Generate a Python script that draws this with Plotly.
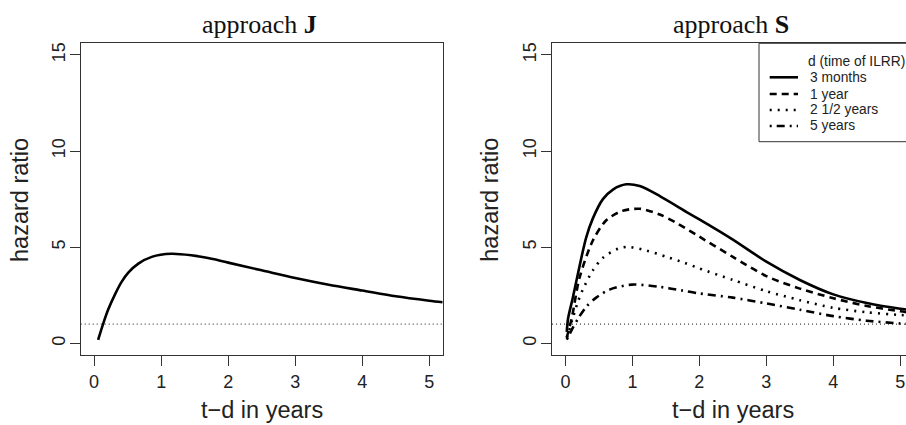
import plotly.graph_objects as go

# ---------------- data ----------------
J_t = [0.06, 0.13, 0.21, 0.31, 0.41, 0.51, 0.66, 0.86, 1.15, 1.45, 1.77, 2.0, 2.5, 3.0, 3.5, 4.0, 4.5, 5.0, 5.2]
J_hr = [0.19, 0.97, 1.76, 2.54, 3.2, 3.68, 4.15, 4.5, 4.66, 4.58, 4.39, 4.2, 3.8, 3.4, 3.05, 2.75, 2.45, 2.22, 2.14]

S_3m_t = [0.02, 0.04, 0.11, 0.21, 0.31, 0.41, 0.56, 0.71, 0.91, 1.11, 1.41, 1.83, 2.0, 2.5, 3.0, 3.5, 4.0, 4.5, 5.0, 5.2]
S_3m_hr = [0.6, 1.3, 2.36, 4.0, 5.5, 6.5, 7.5, 8.0, 8.27, 8.18, 7.66, 6.79, 6.45, 5.4, 4.25, 3.3, 2.55, 2.1, 1.8, 1.72]

S_1y_t = [0.02, 0.05, 0.1, 0.21, 0.41, 0.61, 0.84, 1.11, 1.41, 1.68, 2.0, 2.5, 3.0, 3.5, 4.0, 4.5, 5.0, 5.2]
S_1y_hr = [0.3, 0.7, 1.4, 3.4, 5.35, 6.4, 6.88, 7.0, 6.7, 6.22, 5.55, 4.5, 3.5, 2.85, 2.35, 1.95, 1.67, 1.58]

S_25y_t = [0.02, 0.05, 0.1, 0.18, 0.26, 0.41, 0.56, 0.79, 0.94, 1.21, 1.51, 1.78, 2.0, 2.5, 3.0, 3.5, 4.0, 4.5, 5.0, 5.2]
S_25y_hr = [0.3, 0.6, 1.2, 2.1, 2.8, 3.8, 4.45, 4.93, 5.02, 4.83, 4.5, 4.19, 3.9, 3.3, 2.72, 2.25, 1.85, 1.62, 1.48, 1.44]

S_5y_t = [0.02, 0.05, 0.1, 0.2, 0.31, 0.46, 0.66, 0.99, 1.41, 1.73, 2.0, 2.5, 3.0, 3.5, 4.0, 4.5, 5.0, 5.2]
S_5y_hr = [0.2, 0.4, 0.75, 1.35, 1.9, 2.38, 2.8, 3.06, 2.94, 2.76, 2.6, 2.38, 2.08, 1.75, 1.42, 1.18, 1.04, 1.0]

LEGEND_TITLE = "d (time of ILRR)"
LEGEND_LABELS = ["3 months", "1 year", "2 1/2 years", "5 years"]
REF_HR = 1
Y_TICKS = [0, 5, 10, 15]
X_TICKS = [0, 1, 2, 3, 4, 5]

# ---------------- figure ----------------
W, H = 906, 425
fig = go.Figure()

DASHES = ["solid", "7px,5px", "2px,6px", "2px,5px,8px,5px"]
LW = 2.6

fig.add_trace(go.Scatter(x=J_t, y=J_hr, mode="lines", xaxis="x", yaxis="y",
                         line=dict(color="black", width=LW, shape="spline", smoothing=0.8),
                         showlegend=False, hoverinfo="skip"))

series = [(S_3m_t, S_3m_hr), (S_1y_t, S_1y_hr), (S_25y_t, S_25y_hr), (S_5y_t, S_5y_hr)]
for (t, hr), dash, name in zip(series, DASHES, LEGEND_LABELS):
    fig.add_trace(go.Scatter(x=t, y=hr, mode="lines", xaxis="x2", yaxis="y2", name=name,
                             line=dict(color="black", width=LW, dash=dash, shape="spline", smoothing=0.8),
                             showlegend=False, hoverinfo="skip"))

# reference line at HR = 1
for xr, yr in [("x domain", "y"), ("x2 domain", "y2")]:
    fig.add_shape(type="line", xref=xr, yref=yr, x0=0, x1=1, y0=REF_HR, y1=REF_HR,
                  line=dict(color="#444", width=1.3, dash="1px,3px"), layer="below")

axis_common = dict(
    showgrid=False, zeroline=False, showline=True, linecolor="#333", linewidth=1,
    ticks="outside", ticklen=10, tickwidth=1, tickcolor="#333",
    tickfont=dict(family="Liberation Sans, Arial", size=18, color="#222"),
)
y_dom = [1 - 355 / H, 1 - 43.3 / H]

fig.update_layout(
    width=W, height=H, autosize=False,
    margin=dict(l=0, r=0, t=0, b=0),
    paper_bgcolor="white", plot_bgcolor="white",
    xaxis=dict(domain=[80.7 / W, 442.7 / W], range=[-0.2, 5.2], tickvals=X_TICKS,
               mirror=True, anchor="y", ticklabelstandoff=0, **axis_common),
    yaxis=dict(domain=y_dom, range=[-0.6, 15.6], tickvals=Y_TICKS, tickangle=-90,
               mirror=True, anchor="x", ticklabelstandoff=-2, **axis_common),
    xaxis2=dict(domain=[552 / W, 1.0], range=[-0.2, 5.085], tickvals=X_TICKS,
                mirror=True, anchor="y2", ticklabelstandoff=0, **axis_common),
    yaxis2=dict(domain=y_dom, range=[-0.6, 15.6], tickvals=Y_TICKS, tickangle=-90,
                mirror=False, anchor="x2", ticklabelstandoff=-2, **axis_common),
)

serif = dict(family="Liberation Serif, Times New Roman, serif", size=26, color="#111")
sans_lab = dict(family="Liberation Sans, Arial", size=23.5, color="#222")

annotations = [
    dict(text="approach <b>J</b>", x=259 / W, y=1 - 24 / H, font=serif),
    dict(text="approach <b>S</b>", x=731 / W, y=1 - 24 / H, font=serif),
    dict(text="hazard ratio", x=20 / W, y=1 - 200 / H, textangle=-90, font=sans_lab),
    dict(text="hazard ratio", x=489.7 / W, y=1 - 200 / H, textangle=-90, font=sans_lab),
    dict(text="t\u2212d in years", x=261.7 / W, y=1 - 410 / H, font=sans_lab),
    dict(text="t\u2212d in years", x=732.5 / W, y=1 - 410 / H, font=sans_lab),
]
for a in annotations:
    a.update(xref="paper", yref="paper", showarrow=False, xanchor="center", yanchor="middle")
    fig.add_annotation(**a)

# manual legend (box cut by the right edge, as in the reference)
leg_font = dict(family="Liberation Sans, Arial", size=13.8, color="#222")
fig.add_shape(type="rect", xref="paper", yref="paper",
              x0=759 / W, x1=960 / W, y0=1 - 141.7 / H, y1=1 - 43.3 / H,
              line=dict(color="#333", width=1), fillcolor="white", layer="above")
fig.add_annotation(text=LEGEND_TITLE, xref="paper", yref="paper", x=806 / W, y=1 - 61 / H,
                   xanchor="left", yanchor="middle", showarrow=False, font=leg_font)
row_y = [77.3, 94, 110, 126]
for ry, lab, dash in zip(row_y, LEGEND_LABELS, DASHES):
    fig.add_shape(type="line", xref="paper", yref="paper", x0=769.7 / W, x1=798 / W,
                  y0=1 - ry / H, y1=1 - ry / H, line=dict(color="black", width=LW, dash=dash),
                  layer="above")
    fig.add_annotation(text=lab, xref="paper", yref="paper", x=808 / W, y=1 - ry / H,
                       xanchor="left", yanchor="middle", showarrow=False, font=leg_font)

fig.write_html("out.html", config={"displayModeBar": False},
               post_script="document.body.style.margin='0px';document.body.style.overflow='hidden';")
